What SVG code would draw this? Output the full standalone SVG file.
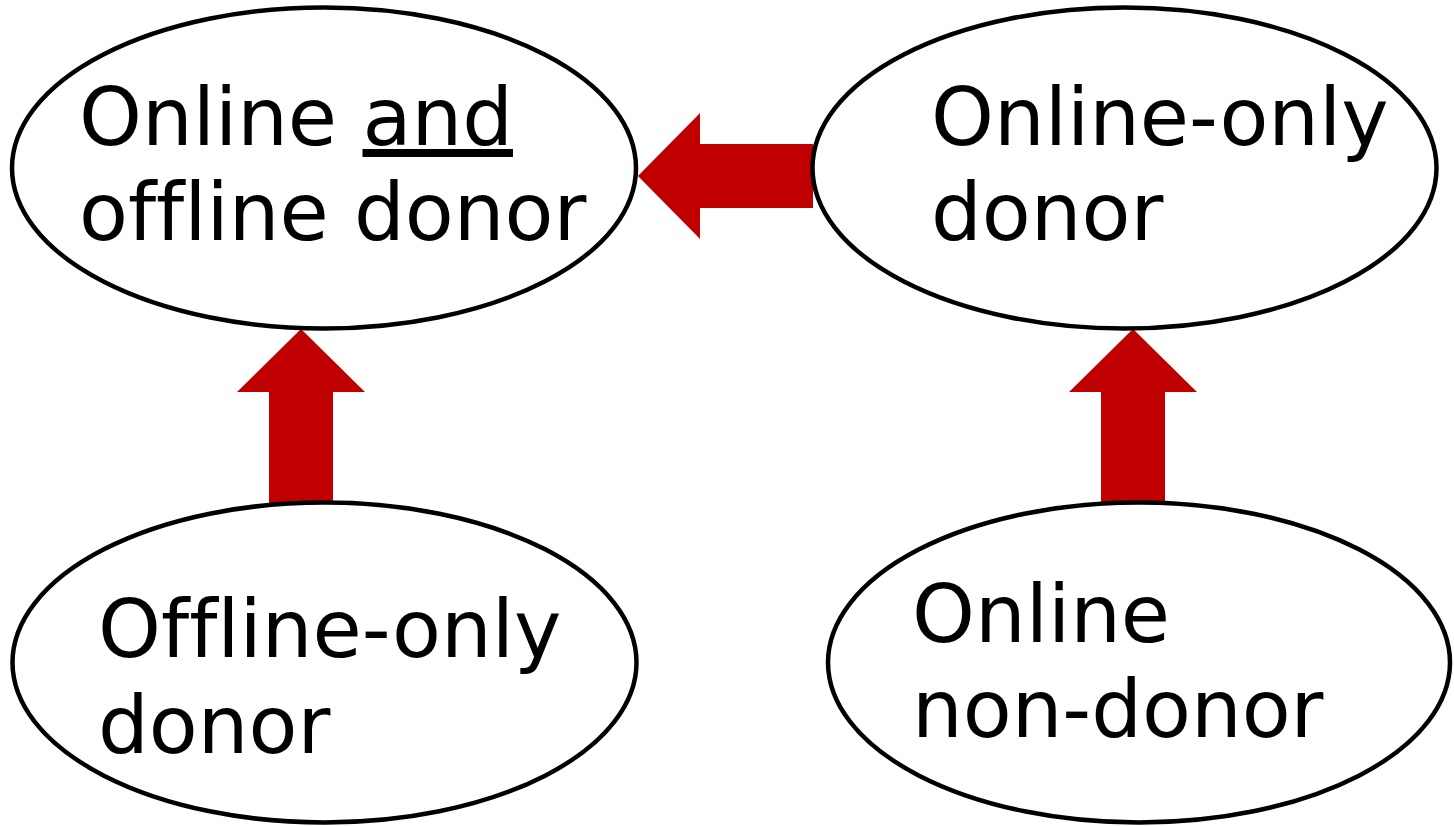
<svg xmlns="http://www.w3.org/2000/svg" width="1454" height="826" viewBox="0 0 1454 826">
<style>
.node ellipse{fill:#fff;stroke:#000;stroke-width:4.5}
.node text{font-family:"DejaVu Sans",Verdana,sans-serif;font-size:80px;fill:#000;font-variant-ligatures:none;font-feature-settings:"liga" 0,"clig" 0}
.arrow{fill:#C00000;stroke:none}
</style>
<rect width="1454" height="826" fill="#fff"/>
<g id="connectors">
<polygon class="arrow" points="638,176 700,113 700,144 813,144 813,208 700,208 700,239"/>
<polygon class="arrow" points="301,329 365,392 333,392 333,505 269,505 269,392 237,392"/>
<polygon class="arrow" points="1133,329 1197,392 1165,392 1165,505 1101,505 1101,392 1069,392"/>
</g>
<g id="node-online-and-offline" class="node">
<ellipse cx="324" cy="168" rx="312" ry="160.5"/>
<text x="79" y="145">Online <tspan text-decoration="underline">and</tspan></text>
<text x="79" y="240">offline donor</text>
</g>
<g id="node-online-only" class="node">
<ellipse cx="1124.5" cy="168" rx="312" ry="160.5"/>
<text x="931" y="145">Online-only</text>
<text x="931" y="240">donor</text>
</g>
<g id="node-offline-only" class="node">
<ellipse cx="324.5" cy="662.5" rx="312" ry="160"/>
<text x="98" y="657">Offline-only</text>
<text x="98" y="753">donor</text>
</g>
<g id="node-online-non-donor" class="node">
<ellipse cx="1139" cy="662.5" rx="311" ry="160"/>
<text x="912" y="642">Online</text>
<text x="912" y="737">non-donor</text>
</g>
</svg>
